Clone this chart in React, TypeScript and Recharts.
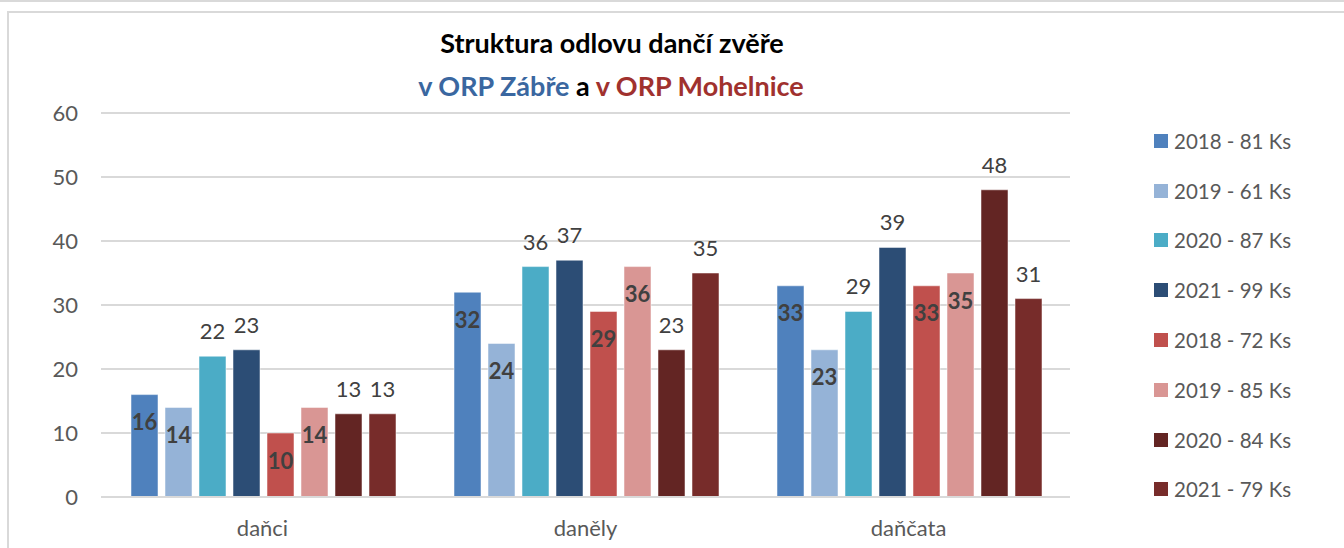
import { BarChart, Bar, XAxis, YAxis, CartesianGrid, LabelList } from "recharts";

const categories = ["daňci", "daněly", "daňčata"];
const seriesNames = [
  "2018 - 81 Ks", "2019 - 61 Ks", "2020 - 87 Ks", "2021 - 99 Ks",
  "2018 - 72 Ks", "2019 - 85 Ks", "2020 - 84 Ks", "2021 - 79 Ks",
];
const zabreh2018 = [16, 32, 33];
const zabreh2019 = [14, 24, 23];
const zabreh2020 = [22, 36, 29];
const zabreh2021 = [23, 37, 39];
const mohelnice2018 = [10, 29, 33];
const mohelnice2019 = [14, 36, 35];
const mohelnice2020 = [13, 23, 48];
const mohelnice2021 = [13, 35, 31];
const yTicks = [0, 10, 20, 30, 40, 50, 60];

const seriesValues = [
  zabreh2018, zabreh2019, zabreh2020, zabreh2021,
  mohelnice2018, mohelnice2019, mohelnice2020, mohelnice2021,
];
const colors = ["#4F81BD", "#95B3D7", "#4BACC6", "#2C4D75", "#C0504D", "#D99694", "#632523", "#772C2A"];
const insideLabel = [true, true, false, false, true, true, false, false];

const data = categories.map((c, i) => {
  const row: Record<string, string | number> = { name: c };
  seriesValues.forEach((s, k) => { row["s" + k] = s[i]; });
  return row;
});

const font = "Lato, 'Open Sans', sans-serif";

export default function App() {
  return (
    <div style={{ position: "absolute", left: 0, top: 0, width: 1344, height: 548, background: "#fff", overflow: "hidden", fontFamily: font }}>
      <div style={{ position: "absolute", left: 0, top: 0, width: 1344, height: 2, background: "#d9d9d9" }} />
      <div style={{ position: "absolute", left: 7, top: 11, width: 1400, height: 600, border: "2px solid #d9d9d9" }} />
      <div style={{ position: "absolute", left: 0, width: 1224, top: 27, lineHeight: "32px", textAlign: "center", fontSize: 27, fontWeight: 700, color: "#000" }}>
        Struktura odlovu dančí zvěře
      </div>
      <div style={{ position: "absolute", left: 0, width: 1222, top: 70, lineHeight: "32px", textAlign: "center", fontSize: 27, fontWeight: 700, color: "#000" }}>
        <span style={{ color: "#3A67A0" }}>v ORP Zábře</span> a <span style={{ color: "#A0312E" }}>v ORP Mohelnice</span>
      </div>
      <BarChart
        width={1344}
        height={548}
        data={data}
        margin={{ top: 113, right: 274, bottom: 21, left: 0 }}
        barCategoryGap={30}
        barGap={7}
        style={{ position: "absolute", left: 0, top: 0 }}
      >
        <CartesianGrid vertical={false} stroke="#d9d9d9" strokeWidth={2} />
        <XAxis
          dataKey="name"
          height={30}
          axisLine={{ stroke: "#d9d9d9", strokeWidth: 2 }}
          tickLine={false}
          tick={{ fill: "#595959", fontSize: 22, fontFamily: font }}
          tickMargin={17}
        />
        <YAxis
          domain={[0, 60]}
          ticks={yTicks}
          axisLine={false}
          tickLine={false}
          width={101}
          tick={{ fill: "#595959", fontSize: 22, fontFamily: font }}
          tickMargin={17}
        />
        {seriesNames.map((n, k) => (
          <Bar key={k} dataKey={"s" + k} name={n} fill={colors[k]} stroke="rgba(255,255,255,0.5)" strokeWidth={1} isAnimationActive={false}>
            {insideLabel[k] ? (
              <LabelList dataKey={"s" + k} position="insideTop" offset={20} fill="#404040" fontSize={22} fontWeight={700} fontFamily={font} />
            ) : (
              <LabelList dataKey={"s" + k} position="top" offset={17} fill="#404040" fontSize={22} fontFamily={font} />
            )}
          </Bar>
        ))}
      </BarChart>
      <div style={{ position: "absolute", left: 1154, top: 116 }}>
        {seriesNames.map((n, k) => (
          <div key={k} style={{ display: "flex", alignItems: "center", height: 49.8 }}>
            <div style={{ width: 14, height: 14, background: colors[k], marginRight: 6 }} />
            <span style={{ fontSize: 20.5, color: "#595959" }}>{n}</span>
          </div>
        ))}
      </div>
    </div>
  );
}
